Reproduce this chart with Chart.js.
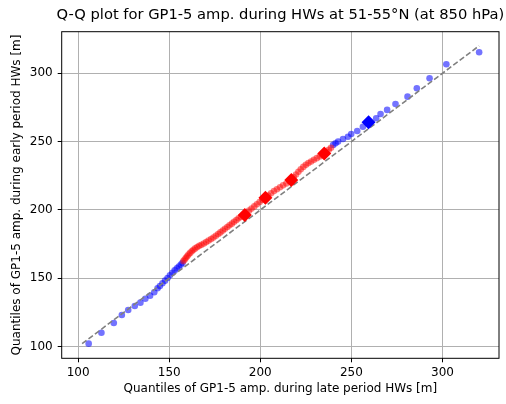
<!DOCTYPE html>
<html lang="en">
	<head>
		<meta charset="UTF-8" />
		<title>Q-Q plot</title>
		<script src="https://cdn.jsdelivr.net/npm/chart.js@4.4.0/dist/chart.umd.min.js"></script>
		<style>
			body { margin: 0; background: #fff; }
		</style>
	</head>
	<body>
		<canvas id="chart" width="506" height="404"></canvas>
		<script>
			const titleText = "Q-Q plot for GP1-5 amp. during HWs at 51-55°N (at 850 hPa)";
			const xLabel = "Quantiles of GP1-5 amp. during late period HWs [m]";
			const yLabel = "Quantiles of GP1-5 amp. during early period HWs [m]";
			const tickValues = [100, 150, 200, 250, 300];

			// quantiles outside the red range (lower tail)
			const blueLowX = [105.8, 112.8, 119.6, 124.0, 127.5, 131.1, 134.2, 136.9, 139.5, 141.8, 143.6, 144.9, 146.3, 147.7, 149.1, 150.4, 151.8, 153.0, 154.2, 155.3, 156.4, 157.3];
			const blueLowY = [102.2, 110.2, 117.3, 123.2, 126.8, 129.8, 132.2, 135.1, 137.3, 139.8, 142.7, 144.3, 146.4, 148.3, 150.2, 152.3, 154.1, 155.8, 157.3, 158.7, 160.0, 161.3];

			// upper tail
			const blueHighX = [240.0, 241.3, 242.7, 245.4, 248.1, 249.9, 253.2, 256.3, 258.9, 263.6, 266.0, 269.6, 274.2, 280.8, 285.9, 292.9, 302.1, 320.1];
			const blueHighY = [247.6, 248.8, 250.0, 251.9, 253.6, 255.6, 257.8, 260.9, 263.6, 267.1, 270.2, 273.2, 277.5, 282.9, 289.0, 296.3, 306.6, 315.4];

			// red quantiles
			const redX = [157.8, 158.5, 159.2, 159.9, 160.6, 161.5, 162.4, 163.3, 164.3, 165.4, 166.5, 167.7, 169.0, 170.3, 171.6, 173.0, 174.3, 175.6, 176.9, 178.1, 179.4, 180.6, 181.9, 183.1, 184.4, 185.6, 186.9, 188.1, 189.4, 190.6, 192.4, 193.8, 195.2, 196.7, 198.1, 199.6, 201.1, 204.3, 205.9, 207.5, 209.1, 210.8, 212.5, 214.3, 216.0, 218.3, 219.6, 220.9, 222.2, 223.6, 225.0, 226.4, 227.9, 229.4, 231.0, 232.6, 234.0, 236.3, 237.6, 238.8];
			const redY = [162.6, 163.8, 165.0, 166.2, 167.4, 168.6, 169.8, 170.9, 171.9, 172.9, 173.8, 174.6, 175.5, 176.5, 177.6, 178.7, 179.9, 181.1, 182.4, 183.6, 184.9, 186.2, 187.5, 188.8, 190.0, 191.3, 192.6, 193.9, 195.0, 196.2, 198.0, 199.5, 201.0, 202.6, 204.2, 205.8, 207.4, 210.6, 212.2, 213.8, 215.2, 216.6, 218.0, 219.4, 220.8, 224.0, 226.0, 228.0, 229.8, 231.5, 233.0, 234.3, 235.5, 236.7, 237.9, 239.1, 240.3, 242.6, 244.0, 245.5];

			// highlighted quantiles (diamonds)
			const redDiamondX = [191.5, 202.8, 217.0, 235.1];
			const redDiamondY = [196.3, 209.0, 222.0, 241.3];
			const blueDiamondX = [259.4];
			const blueDiamondY = [264.2];

			// 1:1 reference line, from min to max of the data
			const refLine = [102.2, 320.1];

			const pts = (xs, ys) => xs.map((x, i) => ({ x: x, y: ys[i] }));

			Chart.defaults.font.family = "DejaVu Sans";
			Chart.defaults.font.size = 12;
			Chart.defaults.color = "#000";

			const frameAndTitle = {
				id: "frameAndTitle",
				afterDraw(chart) {
					const { ctx, chartArea: a } = chart;
					ctx.save();
					ctx.strokeStyle = "#000";
					ctx.lineWidth = 1;
					ctx.strokeRect(a.left, a.top, a.right - a.left, a.bottom - a.top);
					ctx.fillStyle = "#000";
					ctx.font = "14.7px 'DejaVu Sans'";
					ctx.textAlign = "center";
					ctx.textBaseline = "middle";
					ctx.fillText(titleText, (a.left + a.right) / 2, 15);
					ctx.restore();
				},
			};

			new Chart(document.getElementById("chart"), {
				type: "scatter",
				data: {
					datasets: [
						{
							data: pts(redDiamondX, redDiamondY),
							pointStyle: "rectRot",
							pointRadius: 7,
							backgroundColor: "red",
							borderWidth: 0,
							order: 0,
						},
						{
							data: pts(blueDiamondX, blueDiamondY),
							pointStyle: "rectRot",
							pointRadius: 7,
							backgroundColor: "blue",
							borderWidth: 0,
							order: 0,
						},
						{
							data: pts(refLine, refLine),
							showLine: true,
							pointRadius: 0,
							borderColor: "gray",
							borderWidth: 1.6,
							borderDash: [5.5, 2.5],
							order: 1,
						},
						{
							data: pts(redX, redY),
							pointRadius: 3.3,
							backgroundColor: "rgba(255,0,0,0.5)",
							borderWidth: 0,
							order: 2,
						},
						{
							data: pts(blueLowX.concat(blueHighX), blueLowY.concat(blueHighY)),
							pointRadius: 3.3,
							backgroundColor: "rgba(0,0,255,0.55)",
							borderWidth: 0,
							order: 3,
						},
					],
				},
				options: {
					responsive: false,
					animation: false,
					layout: { padding: { top: 31.7, right: 4.3, left: 0, bottom: 0 } },
					plugins: {
						legend: { display: false },
						tooltip: { enabled: false },
					},
					scales: {
						x: {
							min: 91,
							max: 331,
							afterBuildTicks: (s) => { s.ticks = tickValues.map((v) => ({ value: v })); },
							afterFit: (s) => { s.height = 45.7; },
							grid: { color: "#b0b0b0", lineWidth: 1, tickColor: "#000", tickLength: 4 },
							border: { display: false },
							ticks: { padding: 3, maxRotation: 0 },
							title: { display: true, text: xLabel, padding: { top: 0, bottom: 8 } },
						},
						y: {
							min: 91.5,
							max: 330.4,
							afterBuildTicks: (s) => { s.ticks = tickValues.map((v) => ({ value: v })); },
							afterFit: (s) => { s.width = 61.7; },
							grid: { color: "#b0b0b0", lineWidth: 1, tickColor: "#000", tickLength: 4 },
							border: { display: false },
							ticks: { padding: 5 },
							title: { display: true, text: yLabel, padding: { top: 9.5, bottom: 0 } },
						},
					},
				},
				plugins: [frameAndTitle],
			});
		</script>
	</body>
</html>
